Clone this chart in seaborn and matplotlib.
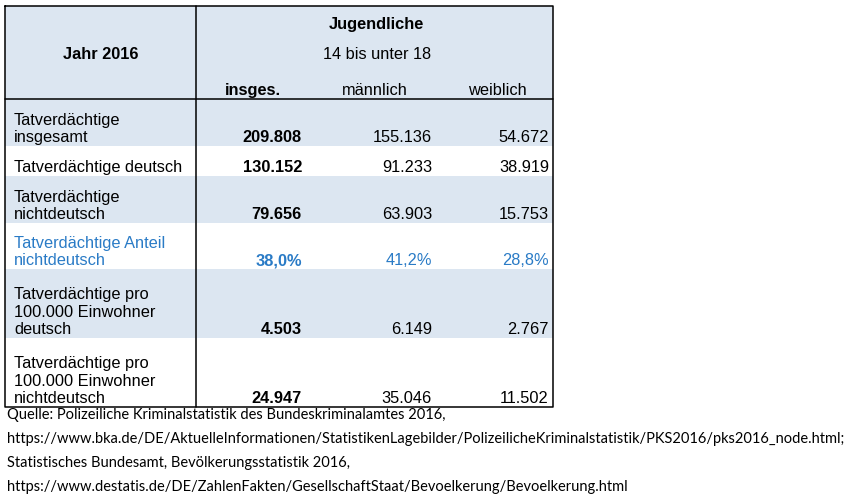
import matplotlib
matplotlib.use("Agg")
import matplotlib.pyplot as plt
import seaborn as sns

sns.set_theme(style="white")
plt.rcParams['font.family'] = ['Liberation Sans', 'DejaVu Sans']
plt.rcParams['text.color'] = 'black'

# table content
row_labels = [
    "Tatverdächtige\ninsgesamt",
    "Tatverdächtige deutsch",
    "Tatverdächtige\nnichtdeutsch",
    "Tatverdächtige Anteil\nnichtdeutsch",
    "Tatverdächtige pro\n100.000 Einwohner\ndeutsch",
    "Tatverdächtige pro\n100.000 Einwohner\nnichtdeutsch",
]
insges = [209808, 130152, 79656, 38.0, 4503, 24947]
maennlich = [155136, 91233, 63903, 41.2, 6149, 35046]
weiblich = [54672, 38919, 15753, 28.8, 2767, 11502]
is_percent = [False, False, False, True, False, False]
col_headers = ["insges.", "männlich", "weiblich"]
header_left = "Jahr 2016"
header_group = "Jugendliche"
header_sub = "14 bis unter 18"
footnote = [
    "Quelle: Polizeiliche Kriminalstatistik des Bundeskriminalamtes 2016,",
    "https://www.bka.de/DE/AktuelleInformationen/StatistikenLagebilder/PolizeilicheKriminalstatistik/PKS2016/pks2016_node.html;",
    "Statistisches Bundesamt, Bevölkerungsstatistik 2016,",
    "https://www.destatis.de/DE/ZahlenFakten/GesellschaftStaat/Bevoelkerung/Bevoelkerung.html",
]


def fmt(v, pct):
    if pct:
        return f"{v:.1f}".replace(".", ",") + "%"
    return f"{int(v):,}".replace(",", ".")


# layout in pixels
band = "#DCE6F1"
blue = "#2A7BC6"
left, right, top, head_bottom = 5, 553, 6, 99
divider = 196
row_bottoms = [146, 176, 223, 269, 338, 407]
num_right = [302, 432, 549]
head_centers = [253, 375, 497]
fs = 11.8
line_h = 17.5

fig = plt.figure(figsize=(8.49, 4.99), dpi=100)
ax = fig.add_axes([0, 0, 1, 1])
ax.set_xlim(0, 849)
ax.set_ylim(499, 0)
ax.axis("off")

# backgrounds
ax.fill_between([left, right], top, head_bottom, color=band, lw=0)
prev = head_bottom
for i, b in enumerate(row_bottoms):
    if i % 2 == 0:
        ax.fill_between([left, right], prev, b, color=band, lw=0)
    prev = b

# lines
ax.plot([left, right, right, left, left], [top, top, row_bottoms[-1], row_bottoms[-1], top],
        color="black", lw=1.1)
ax.plot([divider, divider], [top, row_bottoms[-1]], color="black", lw=1.1)
ax.plot([left, right], [head_bottom, head_bottom], color="black", lw=1.1)


def put(x, yc, s, **kw):
    ax.text(x, yc + 5.6, s, va="baseline", fontsize=fs, **kw)


# header
put((left + divider) / 2, 53, header_left, ha="center", weight="bold")
put(376, 23, header_group, ha="center", weight="bold")
put(377, 53, header_sub, ha="center")
for j, h in enumerate(col_headers):
    put(head_centers[j], 89, h, ha="center", weight="bold" if j == 0 else "normal")

# body
for i, lab in enumerate(row_labels):
    color = blue if is_percent[i] else "black"
    last = row_bottoms[i] - 9.5
    lines = lab.split("\n")
    for k, ln in enumerate(lines):
        put(14, last - (len(lines) - 1 - k) * line_h, ln, ha="left", color=color)
    for j, col in enumerate([insges, maennlich, weiblich]):
        put(num_right[j], last, fmt(col[i], is_percent[i]), ha="right", color=color,
            weight="bold" if j == 0 else "normal")

# footnote, sized to span the same width as the original
foot_font = ['Liberation Sans Narrow', 'Lato', 'DejaVu Sans']
probe = ax.text(7, 0, footnote[1], fontsize=10, family=foot_font)
fig.canvas.draw()
w = probe.get_window_extent().width
probe.remove()
foot_fs = 10 * 832 / w
for k, ln in enumerate(footnote):
    ax.text(7, 415 + k * 24 + 4.5, ln, va="baseline", fontsize=foot_fs, family=foot_font,
            color="black")

fig.savefig("out.png", dpi=100)
